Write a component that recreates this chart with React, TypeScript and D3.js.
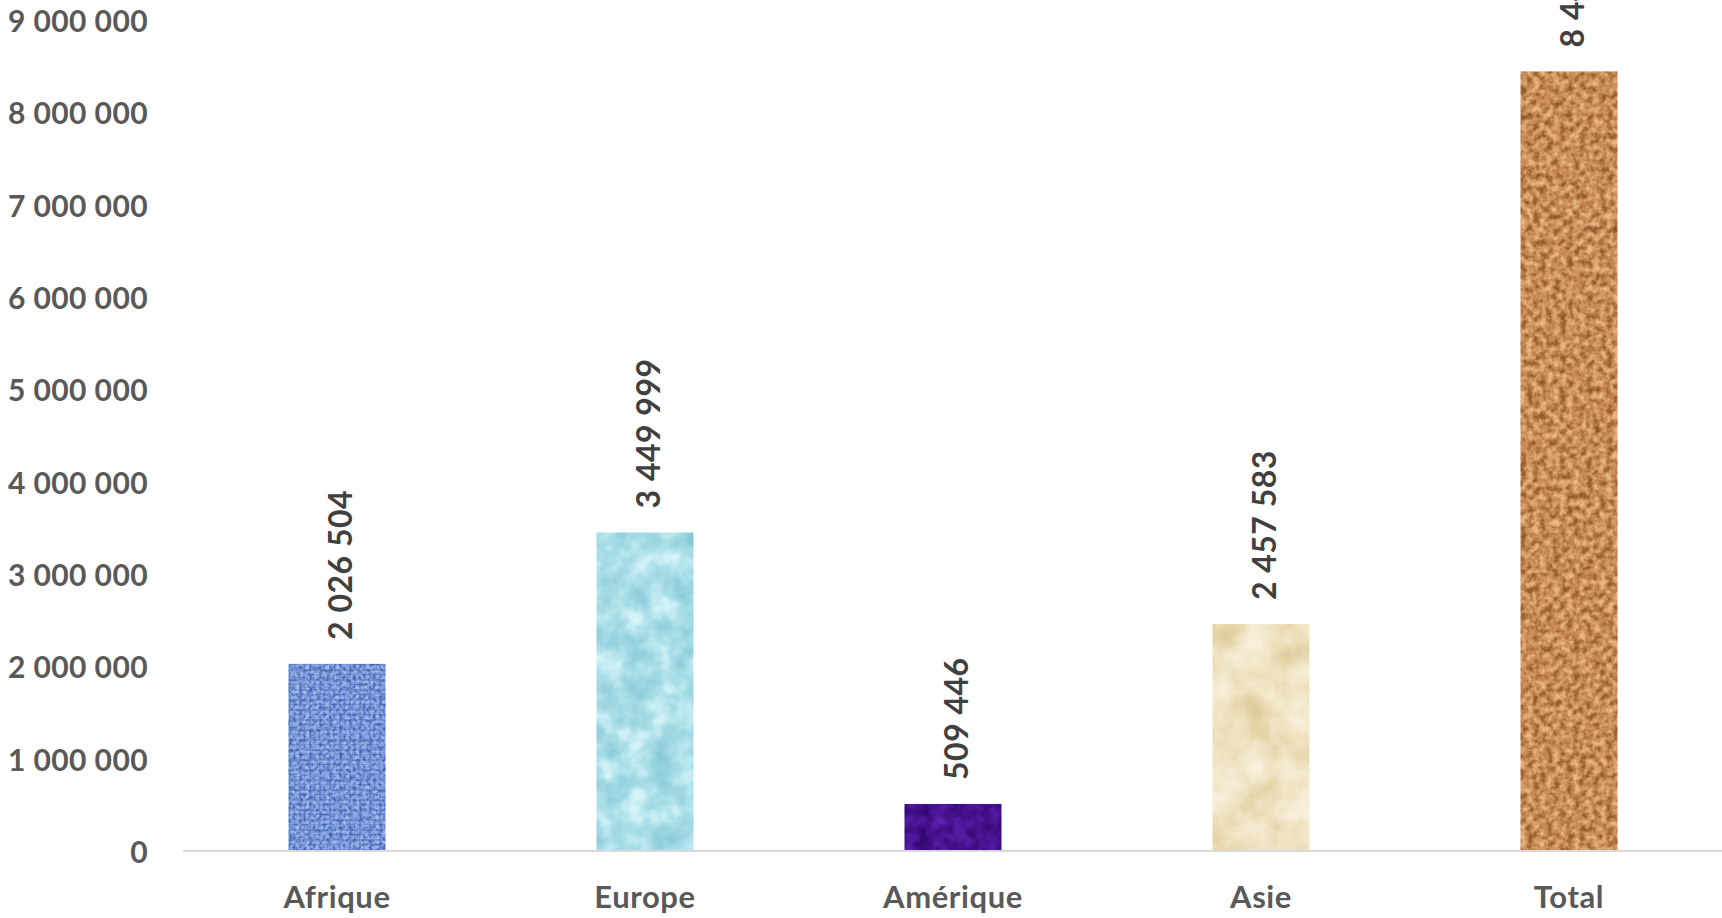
import React from "react";
import * as d3 from "d3";

const categories = ["Afrique", "Europe", "Amérique", "Asie", "Total"];
const values = [2026504, 3449999, 509446, 2457583, 8443532];
const yTicks = [0, 1000000, 2000000, 3000000, 4000000, 5000000, 6000000, 7000000, 8000000, 9000000];

const W = 1722;
const H = 918;
const FONT = "Lato, 'Open Sans', sans-serif";

// texture definitions per bar (styles, not data)
const textures = [
  { id: "tx-afr", freq: 0.3, oct: 2, seed: 2, R: "0.18 0.26 0.48 0.68 0.76", G: "0.30 0.38 0.60 0.77 0.83", B: "0.58 0.66 0.86 0.95 0.97", weave: true },
  { id: "tx-eur", freq: 0.04, oct: 3, seed: 5, R: "0.50 0.56 0.66 0.82 0.88", G: "0.76 0.81 0.87 0.95 0.97", B: "0.82 0.86 0.91 0.97 0.98", weave: false },
  { id: "tx-ame", freq: 0.06, oct: 3, seed: 8, R: "0.16 0.19 0.27 0.36 0.40", G: "0.02 0.03 0.07 0.12 0.14", B: "0.38 0.42 0.55 0.68 0.72", weave: false },
  { id: "tx-asi", freq: 0.025, oct: 4, seed: 11, R: "0.86 0.89 0.94 0.97 0.98", G: "0.78 0.82 0.89 0.94 0.96", B: "0.58 0.64 0.76 0.86 0.90", weave: false },
  { id: "tx-tot", freq: 0.15, oct: 3, seed: 4, R: "0.52 0.60 0.79 0.91 0.94", G: "0.31 0.37 0.55 0.71 0.75", B: "0.14 0.18 0.35 0.51 0.55", weave: false },
];

const fmtLocale = d3.formatLocale({ decimal: ",", thousands: " ", grouping: [3], currency: ["", ""] });
const fmt = fmtLocale.format(",d");

export default function App() {
  const x = d3.scaleBand<string>().domain(categories).range([183, 1723]).paddingInner(0.685).paddingOuter(0.3425);
  const y = d3.scaleLinear().domain([0, 9000000]).range([851, 20]);
  const bw = x.bandwidth();

  return (
    <svg width={W} height={H} style={{ position: "absolute", left: 0, top: 0, display: "block", background: "#fff" }}>
      <defs>
        <pattern id="weave" patternUnits="userSpaceOnUse" width={10} height={10}>
          <rect width={10} height={10} fill="#3e5fae" />
          <rect x={1} y={1} width={8} height={3} fill="#9bb4ea" />
          <rect x={1} y={5} width={3} height={4} fill="#7896dc" />
          <rect x={5} y={5} width={4} height={4} fill="#a9c0ef" />
        </pattern>
        {textures.map((t) => (
          <filter key={t.id} id={t.id} x="0" y="0" width="100%" height="100%" colorInterpolationFilters="sRGB">
            <feTurbulence type="fractalNoise" baseFrequency={t.freq} numOctaves={t.oct} seed={t.seed} result="n" />
            <feColorMatrix in="n" type="matrix" values="1 0 0 0 0  1 0 0 0 0  1 0 0 0 0  0 0 0 0 1" result="g" />
            <feComponentTransfer in="g" result="c">
              <feFuncR type="table" tableValues={t.R} />
              <feFuncG type="table" tableValues={t.G} />
              <feFuncB type="table" tableValues={t.B} />
            </feComponentTransfer>
            <feComposite in="c" in2="SourceGraphic" operator="in" />
          </filter>
        ))}
      </defs>

      {/* y tick labels */}
      <g fontFamily={FONT} fontWeight={700} fontSize={30} fill="#595959" letterSpacing={0.4}>
        {yTicks.map((t) => (
          <text key={t} x={148} y={y(t)} textAnchor="end" dominantBaseline="central">
            {fmt(t)}
          </text>
        ))}
      </g>

      {/* bars */}
      {categories.map((c, i) => {
        const t = textures[i];
        const x0 = x(c)!;
        const y0 = y(values[i]);
        const h = y(0) - y0;
        return (
          <g key={c}>
            <rect x={x0} y={y0} width={bw} height={h} fill="#888" filter={`url(#${t.id})`} />
            {t.weave && <rect x={x0} y={y0} width={bw} height={h} fill="url(#weave)" opacity={0.3} />}
          </g>
        );
      })}

      {/* axis line */}
      <line x1={183} x2={W} y1={y(0)} y2={y(0)} stroke="#d9d9d9" strokeWidth={2} />

      {/* value labels */}
      <g fontFamily={FONT} fontWeight={700} fontSize={32} fill="#404040" letterSpacing={0.5}>
        {categories.map((c, i) => {
          const cx = x(c)! + bw / 2 + 2;
          const ty = y(values[i]) - 24;
          return (
            <text key={c} transform={`translate(${cx},${ty}) rotate(-90)`} textAnchor="start" dominantBaseline="central">
              {fmt(values[i])}
            </text>
          );
        })}
      </g>

      {/* category labels */}
      <g fontFamily={FONT} fontWeight={700} fontSize={31} fill="#595959" letterSpacing={0.6}>
        {categories.map((c) => (
          <text key={c} x={x(c)! + bw / 2} y={908} textAnchor="middle">
            {c}
          </text>
        ))}
      </g>
    </svg>
  );
}
